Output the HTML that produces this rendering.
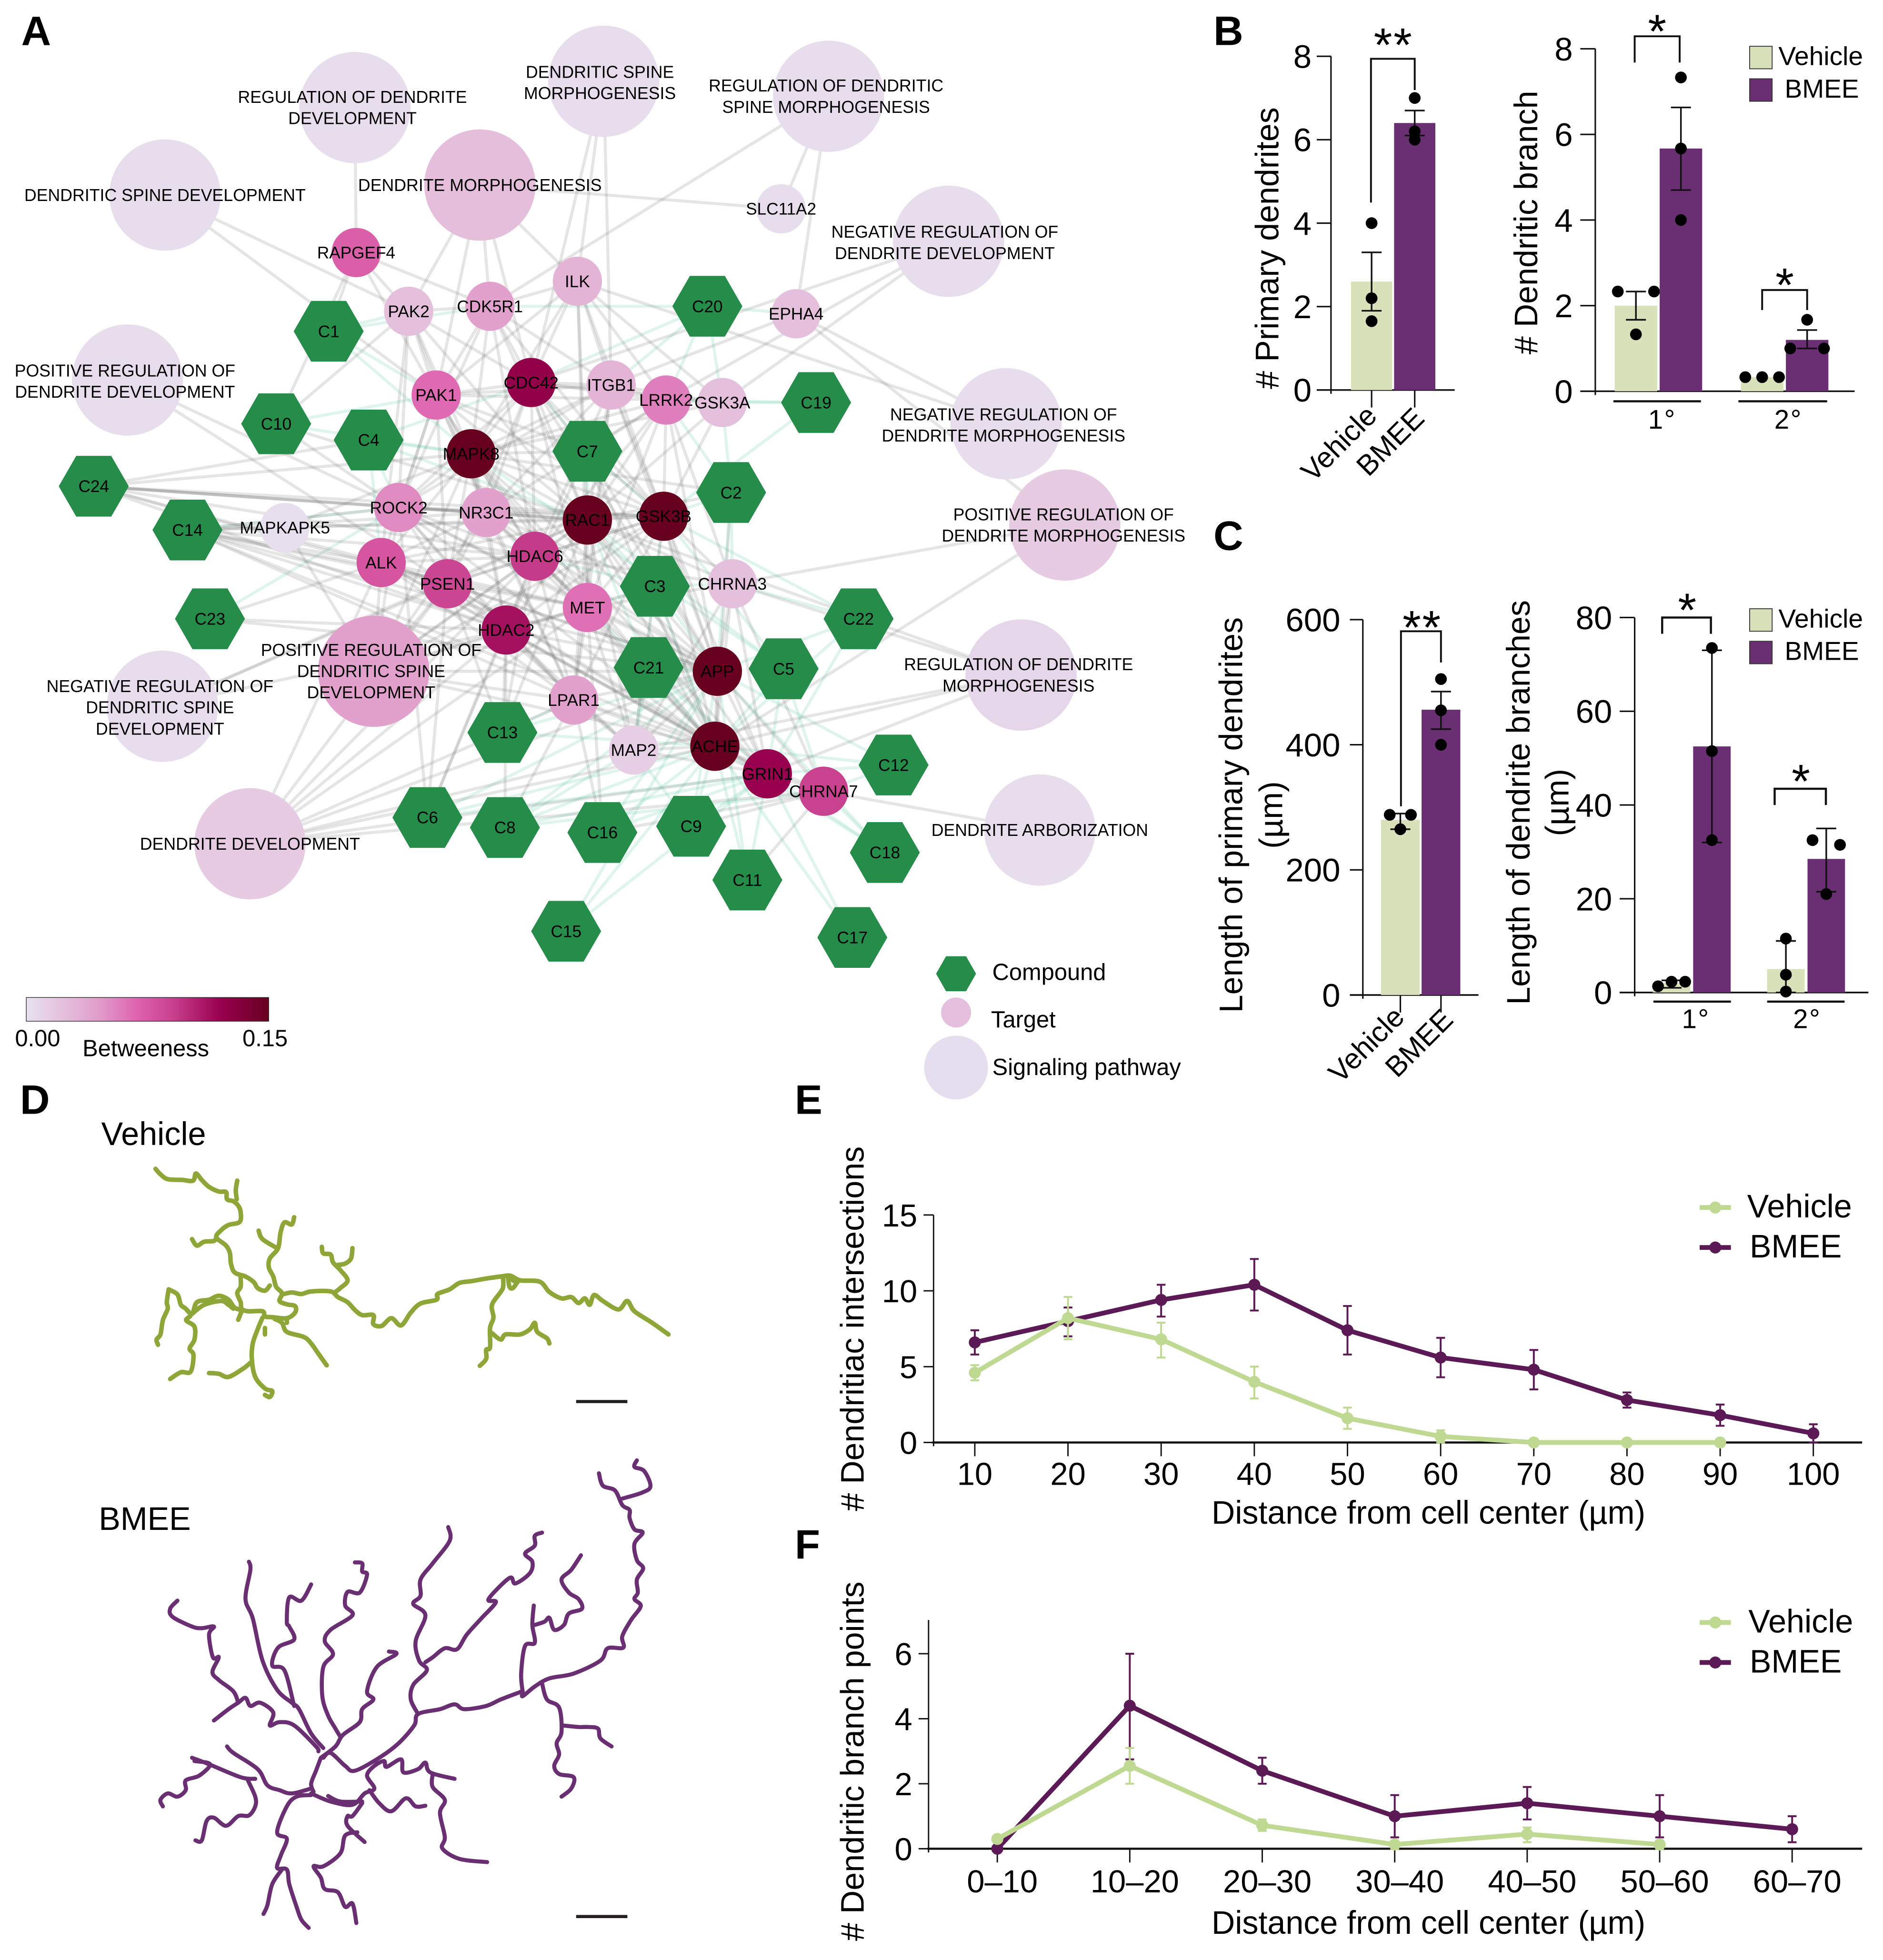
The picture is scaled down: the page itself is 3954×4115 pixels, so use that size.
<!DOCTYPE html>
<html lang="en">
<head>
<meta charset="utf-8">
<title>Network and dendrite morphology figure</title>
<style>
html,body{margin:0;padding:0;background:#fff;}
svg{display:block;font-family:"Liberation Sans",Arial,sans-serif;}
.neuron{fill:none;stroke-linejoin:round;stroke-linecap:round;vector-effect:non-scaling-stroke;}
</style>
</head>
<body>
<svg id="fig" xmlns="http://www.w3.org/2000/svg" width="3954" height="4115" viewBox="0 0 1506.7 1568">
<defs>
<linearGradient id="purd" x1="0" x2="1" y1="0" y2="0">
<stop offset="0" stop-color="#e7e1ef"/><stop offset=".15" stop-color="#e5c0dd"/><stop offset=".3" stop-color="#e19ccb"/><stop offset=".45" stop-color="#df65b0"/><stop offset=".6" stop-color="#c9428f"/><stop offset=".8" stop-color="#98004f"/><stop offset="1" stop-color="#67001f"/>
</linearGradient>
</defs>
<rect width="1506.7" height="1568" fill="#fff"/>

<g font-weight="bold" font-size="33">
<text x="17" y="36">A</text>
<text x="971" y="36">B</text>
<text x="971" y="440">C</text>
<text x="16" y="891">D</text>
<text x="636" y="891">E</text>
<text x="636" y="1247">F</text>
</g>

<g id="network"></g>

<g>
<rect x="21" y="798" width="194" height="19" fill="url(#purd)" stroke="#222" stroke-width=".5"/>
<text x="12" y="837" font-size="18.6">0.00</text>
<text x="66" y="845" font-size="18.6">Betweeness</text>
<text x="194" y="837" font-size="18.6">0.15</text>
</g>

<g>
<polygon points="749,779 757,765 773,765 781,779 773,793 757,793" fill="#258c49"/>
<text x="794" y="784" font-size="18.6">Compound</text>
<circle cx="765" cy="810" r="12" fill="#e4c0de"/>
<text x="793" y="822" font-size="18.6">Target</text>
<circle cx="765" cy="854" r="25.5" fill="#e4deee"/>
<text x="794" y="860" font-size="18.6">Signaling pathway</text>
</g>

<g id="panelB">
<text transform="translate(1023,198.5) rotate(-90)" text-anchor="middle" font-size="26">&#35; Primary dendrites</text>
<text transform="translate(1230,178) rotate(-90)" text-anchor="middle" font-size="26">&#35; Dendritic branch</text>
<text transform="translate(1103,334) rotate(-45)" text-anchor="end" font-size="23">Vehicle</text>
<text transform="translate(1141,336) rotate(-45)" text-anchor="end" font-size="23">BMEE</text>
<path d="M1097 162V47H1132V72" fill="none" stroke="#111" stroke-width="1.5"/>
<text x="1115" y="49" text-anchor="middle" font-size="38" letter-spacing="1">**</text>
<path d="M1308 50V29H1344V50" fill="none" stroke="#111" stroke-width="1.5"/>
<text x="1326" y="38" text-anchor="middle" font-size="38">*</text>
<path d="M1410 248V232H1446V248" fill="none" stroke="#111" stroke-width="1.5"/>
<text x="1428" y="241" text-anchor="middle" font-size="38">*</text>
<rect x="1400" y="37" width="18" height="18" fill="#d9e1bb" stroke="#333" stroke-width=".7"/>
<text x="1423" y="52" font-size="21">Vehicle</text>
<rect x="1400" y="63" width="18" height="18" fill="#6a2f72" stroke="#333" stroke-width=".7"/>
<text x="1428" y="78" font-size="21">BMEE</text>
<path d="M1291 321H1361M1391 321H1462" stroke="#111" stroke-width="1.7"/>
<text x="1330" y="343" text-anchor="middle" font-size="21.5" letter-spacing="1">1°</text>
<text x="1431" y="343" text-anchor="middle" font-size="21.5" letter-spacing="1">2°</text>
</g>

<g id="panelC">
<text transform="translate(994,652) rotate(-90)" text-anchor="middle" font-size="26">Length of primary dendrites</text>
<text transform="translate(1026,652) rotate(-90)" text-anchor="middle" font-size="26">(µm)</text>
<text transform="translate(1224,642) rotate(-90)" text-anchor="middle" font-size="26">Length of dendrite branches</text>
<text transform="translate(1255,642) rotate(-90)" text-anchor="middle" font-size="26">(µm)</text>
<text transform="translate(1125,815) rotate(-45)" text-anchor="end" font-size="23">Vehicle</text>
<text transform="translate(1164,817) rotate(-45)" text-anchor="end" font-size="23">BMEE</text>
<path d="M1121 645V505H1153V530" fill="none" stroke="#111" stroke-width="1.5"/>
<text x="1138" y="515" text-anchor="middle" font-size="38" letter-spacing="1">**</text>
<path d="M1330 507V494H1369V507" fill="none" stroke="#111" stroke-width="1.7"/>
<text x="1350" y="501" text-anchor="middle" font-size="38">*</text>
<path d="M1420 644V631H1461V644" fill="none" stroke="#111" stroke-width="1.7"/>
<text x="1441" y="638" text-anchor="middle" font-size="38">*</text>
<rect x="1400" y="487" width="18" height="18" fill="#d9e1bb" stroke="#333" stroke-width=".7"/>
<text x="1423" y="502" font-size="21">Vehicle</text>
<rect x="1400" y="513" width="18" height="18" fill="#6a2f72" stroke="#333" stroke-width=".7"/>
<text x="1428" y="528" font-size="21">BMEE</text>
<path d="M1323 801.3H1385M1414 801.3H1476" stroke="#111" stroke-width="1.7"/>
<text x="1357" y="822.5" text-anchor="middle" font-size="21.5" letter-spacing="1">1°</text>
<text x="1446" y="822.5" text-anchor="middle" font-size="21.5" letter-spacing="1">2°</text>
</g>

<g>
<text x="81" y="916" font-size="26">Vehicle</text>
<text x="79" y="1224" font-size="26">BMEE</text>
<g transform="translate(0,877) scale(.389,.206)">
<path class="neuron" stroke="#8ea538" stroke-width="9.5" d="M320 282L330 303 345 322 375 325 397 328 403 300 415 325 430 352 450 370 465 372 467 400 480 408 490 425 495 450 493 488 470 500 455 520 445 548 465 580 473 610 475 650 483 685 505 700 522 722 530 745 545 755 555 735 M445 548L440 562 420 565 405 580 395 555 M488 328L485 365 487 400 M605 470L600 498 585 490 577 530 572 590 555 630 553 665 562 700 568 740 580 765 575 795 590 808 607 815 607 840 590 862 560 858 545 855 540 835 510 835 497 825 495 800 488 765 495 740 495 705 M532 522L540 555 570 590 M580 770L600 762 620 768 640 758 680 758 695 780 715 800 730 830 745 850 768 850 768 885 785 892 805 862 825 890 845 840 865 805 898 790 900 768 925 750 945 725 970 718 1000 708 1030 700 1050 697 1070 715 1110 720 1130 760 1155 785 1175 780 1190 803 1203 785 1213 810 1222 772 1240 795 1272 828 1290 795 1305 835 1340 878 1375 925 M690 760L700 745 715 715 700 675 685 645 680 615 665 610 662 585 M725 590L722 630 710 650 695 655 M1035 705L1035 740 1030 760 1012 810 1015 860 1008 900 1008 975 1000 985 1000 1020 987 1047 M1012 920L1030 945 1040 925 1070 925 1090 905 1100 880 1105 915 1125 940 1130 960 M1045 705L1048 740 1055 745 1065 720 M1045 705L1060 720 M490 868L497 835 M347 750L343 800 345 825 335 870 330 925 322 945 325 965 M347 750L365 770 372 810 382 825 392 850 383 870 400 895 400 945 390 980 398 1005 392 1070 372 1072 350 1098 M382 825L395 845 405 800 430 790 450 775 470 790 482 820 495 830 M395 845L420 810 455 795 470 810 480 825 M540 860L530 905 520 960 518 1020 525 1090 545 1135 560 1145 555 1168 545 1160 M515 1035L500 1058 470 1090 450 1078 430 1075 M565 865L580 880 590 915 625 935 640 960 655 1000 672 1045 M590 862L590 880 M545 900L545 925"/>
</g>
<rect x="461" y="1120" width="41" height="2.5" fill="#231f20"/>
<g transform="translate(0,1160) scale(.389,.2592)">
<path class="neuron" stroke="#6a2f72" stroke-width="8.5" d="M1310 32L1305 52 1325 65 1338 112 1320 132 1280 150 M1232 72L1240 110 1265 125 1280 170 1295 185 1295 210 1305 245 1322 255 1305 290 1310 340 1323 365 1310 400 1312 440 1305 460 1318 482 1298 525 1280 575 1282 610 1250 612 1235 650 1180 690 1130 705 1100 730 1075 760 1075 745 1065 750 1030 770 1000 790 955 800 935 785 905 800 860 815 852 850 820 905 780 950 730 990 710 975 680 935 665 950 M1075 745L1072 690 1080 605 1100 595 1095 540 1098 480 M1100 540L1120 530 1130 518 1140 555 1160 540 1170 505 1197 490 1190 460 1170 440 1155 400 1175 370 1195 325 M1115 720L1125 770 1150 795 1155 870 1145 905 1150 940 1140 975 1150 1000 1180 1010 1175 1045 1155 1070 M1155 850L1190 855 1210 855 1230 860 1235 890 1258 915 M860 815L845 770 850 725 878 680 862 650 855 590 875 510 850 475 865 450 865 400 890 350 925 280 922 238 M875 655L890 640 915 612 940 615 960 570 990 520 1020 470 1005 460 1048 395 1060 412 1090 380 1095 345 1080 320 1100 295 1100 265 1115 255 M660 950L650 990 640 1030 645 1055 M665 920L640 875 615 800 600 780 570 740 540 650 520 520 505 460 515 370 512 345 M605 790L585 680 560 665 572 610 605 585 595 545 590 530 595 455 620 465 640 415 M700 885L690 860 675 820 663 760 665 670 685 630 668 590 680 555 725 510 710 480 715 438 740 440 755 385 745 375 745 350 730 347 M660 950L690 915 705 880 740 840 745 800 768 770 755 745 775 670 815 630 800 622 M655 930L650 915 605 850 575 840 555 850 562 810 535 780 515 790 505 765 490 780 470 800 440 835 M490 780L480 745 450 710 437 685 450 640 438 640 430 570 440 545 415 550 395 545 355 515 350 490 365 465 M640 1045L600 1060 575 1050 550 1035 530 985 480 935 467 915 M525 1015L495 1010 430 970 395 950 M400 960L432 970 410 1005 382 1020 382 1050 365 1070 345 1060 330 1080 335 1100 M510 1020L525 1070 525 1100 512 1128 490 1130 465 1160 440 1135 425 1145 415 1205 402 1205 M640 1060L680 1085 725 1095 750 1060 770 1045 755 1005 770 975 790 960 795 978 825 955 830 995 860 985 875 965 885 995 935 1015 M890 1000L890 1040 915 1080 905 1120 915 1195 910 1230 945 1262 1002 1272 M760 1050L780 1090 805 1115 835 1075 855 1100 875 1098 M675 1068L700 1085 745 1085 M640 1065L610 1070 590 1100 570 1180 590 1200 578 1250 570 1290 590 1295 595 1340 610 1410 620 1450 635 1475 M580 1295L560 1340 550 1405 542 1432 M745 1090L725 1130 715 1130 715 1160 750 1210 M735 1180L710 1190 700 1245 665 1285 645 1285 660 1320 668 1355 695 1365 710 1410 725 1400 733 1460"/>
</g>
<rect x="461" y="1532" width="41" height="2.5" fill="#231f20"/>
</g>

<g id="panelE">
<text transform="translate(691,1063) rotate(-90)" text-anchor="middle" font-size="26">&#35; Dendritiac intersections</text>
<text x="1143" y="1219" text-anchor="middle" font-size="26">Distance from cell center (µm)</text>
<text x="1398" y="974" font-size="26">Vehicle</text>
<text x="1400" y="1006" font-size="26">BMEE</text>
</g>

<g id="panelF">
<text transform="translate(691,1409) rotate(-90)" text-anchor="middle" font-size="26">&#35; Dendritic branch points</text>
<text x="1143" y="1547" text-anchor="middle" font-size="26">Distance from cell center (µm)</text>
<text x="1399" y="1306" font-size="26">Vehicle</text>
<text x="1400" y="1338" font-size="26">BMEE</text>
</g>
</svg>

<script>
/* ---------- Panel B data ---------- */
const b1Means = [2.6, 6.4];
const b1Low = [1.9, 6.1];
const b1High = [3.3, 6.7];
const b1DotsVehicle = [4, 2.2, 1.65];
const b1DotsBmee = [7, 6.2, 6];
const b1Ticks = [0, 2, 4, 6, 8];

const b2Means = [2, 5.67, 0.33, 1.2];
const b2Low = [1.67, 4.7, 0.33, 1];
const b2High = [2.33, 6.63, 0.33, 1.43];
const b2Dots = [[2.33, 2.33, 1.33], [7.33, 5.67, 4], [0.33, 0.33, 0.33], [1, 1.67, 1]];
const b2Ticks = [0, 2, 4, 6, 8];

/* ---------- Panel C data ---------- */
const c1Means = [280, 456];
const c1Low = [265, 425];
const c1High = [290, 485];
const c1DotsVehicle = [288, 288, 265];
const c1DotsBmee = [505, 455, 400];
const c1Ticks = [0, 200, 400, 600];

const c2Means = [2, 52.5, 5, 28.5];
const c2Low = [1, 32, 0, 21.5];
const c2High = [2.6, 73, 11, 35];
const c2Dots = [[1.33, 2.3, 2.3], [73.5, 51.5, 32.5], [11.5, 3.8, 0.2], [32.5, 31.5, 21]];
const c2Ticks = [0, 20, 40, 60, 80];

/* ---------- Panel E data ---------- */
const eCategories = ['10','20','30','40','50','60','70','80','90','100'];
const eTicks = [0, 5, 10, 15];
const eBmee = [6.6, 8.0, 9.4, 10.4, 7.4, 5.6, 4.8, 2.8, 1.8, 0.6];
const eBmeeLow = [5.8, 7.0, 8.3, 8.7, 5.8, 4.3, 3.5, 2.3, 1.1, 0];
const eBmeeHigh = [7.4, 8.9, 10.4, 12.1, 9.0, 6.9, 6.1, 3.3, 2.5, 1.2];
const eVehicle = [4.6, 8.2, 6.8, 4.0, 1.6, 0.4, 0, 0, 0];
const eVehicleLow = [4.1, 6.8, 5.6, 2.9, 0.9, 0, 0, 0, 0];
const eVehicleHigh = [5.1, 9.6, 7.9, 5.0, 2.3, 0.8, 0, 0, 0];

/* ---------- Panel F data ---------- */
const fCategories = ['0–10','10–20','20–30','30–40','40–50','50–60','60–70'];
const fTicks = [0, 2, 4, 6];
const fBmee = [0, 4.4, 2.4, 1.0, 1.4, 1.0, 0.6];
const fBmeeLow = [0, 2.75, 2.0, 0.35, 0.9, 0.35, 0.2];
const fBmeeHigh = [0, 6.0, 2.8, 1.65, 1.9, 1.65, 1.0];
const fVehicle = [0.3, 2.55, 0.72, 0.13, 0.45, 0.13];
const fVehicleLow = [0.3, 2.0, 0.55, 0, 0.2, 0];
const fVehicleHigh = [0.3, 3.1, 0.9, 0.25, 0.65, 0.25];

/* ---------- Network data ---------- */
const targetNames = ['RAPGEF4','PAK2','CDK5R1','ILK','PAK1','CDC42','ITGB1','LRRK2','GSK3A','EPHA4','MAPK8','ROCK2','NR3C1','RAC1','GSK3B','HDAC6','ALK','PSEN1','MET','HDAC2','CHRNA3','APP','LPAR1','MAP2','ACHE','GRIN1','CHRNA7','MAPKAPK5','SLC11A2'];
const targetBetweenness = [.48,.15,.28,.2,.44,.82,.2,.38,.15,.15,1,.35,.28,1,1,.62,.52,.58,.42,.75,.15,1,.28,.08,1,.8,.6,.01,.02];
const compoundNames = ['C1','C10','C4','C24','C14','C23','C7','C2','C19','C20','C3','C22','C21','C5','C13','C12','C6','C8','C16','C9','C18','C11','C15','C17'];
const pathwayIds = ['RDD','DSM','RDSM','DM','DSD','NRDD','PRDD','NRDM','PRDM','PRSD','NRSD','RDM','DD','DA'];
const pathwayBetweenness = [.02,.02,.02,.16,.02,.02,.02,.02,.1,.28,.02,.05,.1,.02];
const pathwayLabels = {
 RDD:['REGULATION OF DENDRITE','DEVELOPMENT'], DSM:['DENDRITIC SPINE','MORPHOGENESIS'],
 RDSM:['REGULATION OF DENDRITIC','SPINE MORPHOGENESIS'], DM:['DENDRITE MORPHOGENESIS'],
 DSD:['DENDRITIC SPINE DEVELOPMENT'], NRDD:['NEGATIVE REGULATION OF','DENDRITE DEVELOPMENT'],
 PRDD:['POSITIVE REGULATION OF','DENDRITE DEVELOPMENT'], NRDM:['NEGATIVE REGULATION OF','DENDRITE MORPHOGENESIS'],
 PRDM:['POSITIVE REGULATION OF','DENDRITE MORPHOGENESIS'], PRSD:['POSITIVE REGULATION OF','DENDRITIC SPINE','DEVELOPMENT'],
 NRSD:['NEGATIVE REGULATION OF','DENDRITIC SPINE','DEVELOPMENT'], RDM:['REGULATION OF DENDRITE','MORPHOGENESIS'],
 DD:['DENDRITE DEVELOPMENT'], DA:['DENDRITE ARBORIZATION']
};
const greyLinks = {
 RDD:'RAPGEF4', DSM:'ILK CDC42 ITGB1', RDSM:'SLC11A2 EPHA4 CDK5R1', DM:'SLC11A2 PAK1 CDK5R1 ILK CDC42 PAK2',
 DSD:'PAK2 PAK1', NRDD:'GSK3A LRRK2 CDC42', PRDD:'ROCK2 PSEN1', NRDM:'ILK EPHA4', PRDM:'EPHA4 CHRNA3 ACHE',
 PRSD:'MAPKAPK5 ROCK2 MAPK8 ALK PSEN1 NR3C1 HDAC2 RAC1 GSK3B LPAR1 MET HDAC6 ACHE APP', NRSD:'RAC1 PSEN1 HDAC2',
 RDM:'ACHE GRIN1 MAP2 CHRNA3 RAC1', DD:'HDAC2 LPAR1 MAP2 ACHE GRIN1 PSEN1 MET ALK HDAC6 APP CHRNA7', DA:'CHRNA7',
 MAPK8:'PAK1 CDC42 ROCK2 NR3C1 RAC1 GSK3B HDAC6 PSEN1 MET HDAC2 APP ACHE LRRK2 ITGB1 GSK3A ILK PAK2 CDK5R1 ALK MAPKAPK5 GRIN1',
 RAC1:'PAK1 CDC42 ITGB1 LRRK2 GSK3A ROCK2 NR3C1 GSK3B HDAC6 HDAC2 PSEN1 MET APP ACHE LPAR1 PAK2 CDK5R1 ILK CHRNA3 ALK GRIN1 MAP2',
 GSK3B:'CDC42 ITGB1 LRRK2 GSK3A NR3C1 HDAC6 HDAC2 PSEN1 MET APP ACHE PAK1 ILK CDK5R1 LPAR1 MAP2 GRIN1 ROCK2 CHRNA3',
 CDC42:'PAK1 PAK2 ITGB1 LRRK2 GSK3A CDK5R1 ILK ROCK2 NR3C1 HDAC6 PSEN1 MET APP',
 APP:'HDAC6 HDAC2 PSEN1 MET LPAR1 ACHE GRIN1 MAP2 CHRNA3 CHRNA7 LRRK2 NR3C1 ITGB1 ALK ROCK2',
 ACHE:'HDAC6 HDAC2 PSEN1 MET LPAR1 GRIN1 MAP2 CHRNA3 CHRNA7 NR3C1 ROCK2 ALK',
 HDAC6:'NR3C1 HDAC2 PSEN1 ALK MET PAK1 ITGB1 LRRK2 ROCK2 CDK5R1 GRIN1 LPAR1 CHRNA3', HDAC2:'NR3C1 PSEN1 ALK MET LPAR1 ROCK2 GRIN1',
 PSEN1:'ALK ROCK2 MET NR3C1 GRIN1 PAK1', ITGB1:'ILK PAK1 LRRK2 GSK3A CDK5R1 EPHA4 ROCK2 MET LPAR1',
 LRRK2:'GSK3A ILK PAK1 MET CHRNA3', ILK:'PAK1 GSK3A CDK5R1 MET', PAK1:'PAK2 RAPGEF4 CDK5R1 ROCK2 NR3C1 ALK',
 PAK2:'RAPGEF4 ROCK2 CDK5R1 ALK', CDK5R1:'RAPGEF4 ROCK2', CHRNA3:'GRIN1 CHRNA7 MAP2', GRIN1:'CHRNA7 MAP2 LPAR1',
 MET:'NR3C1 ROCK2 ALK LPAR1 MAP2 CHRNA3', NR3C1:'ROCK2 LRRK2 ITGB1 LPAR1 ALK PAK2', LPAR1:'ROCK2 PAK1 MAP2 ALK', MAP2:'HDAC2 PSEN1',
 C24:'RAC1 ROCK2 NR3C1 MAPK8 C4 GSK3B PSEN1 HDAC2 ALK HDAC6', C14:'RAC1 GSK3B HDAC6 ROCK2 APP ACHE HDAC2 PSEN1 MET NR3C1 ALK LPAR1',
 C23:'ALK HDAC2 APP', C10:'RAPGEF4 PAK2 ROCK2 RAC1', C1:'RAPGEF4', C7:'MAPK8 PAK1 CDC42 LRRK2 GSK3B ACHE APP HDAC2',
 C6:'HDAC2 HDAC6 PSEN1 ROCK2', C13:'HDAC2 HDAC6 PSEN1 RAC1', C8:'HDAC2 LPAR1', C16:'LPAR1 MET CHRNA7', C9:'CHRNA7', C11:'CHRNA7', C2:'RAC1 MAPK8 ACHE', C3:'NR3C1 HDAC2 ACHE'
};
const tealLinks = {
 C1:'PAK2 PAK1 CDK5R1 MAPK8', C10:'PAK1 MAPK8', C4:'MAPK8 ROCK2 ALK RAC1 CDC42', C7:'RAC1 GSK3B CDC42',
 C2:'GSK3B LRRK2 GSK3A APP CHRNA3', C19:'GSK3A LRRK2 GSK3B', C20:'EPHA4 CDK5R1 ITGB1 LRRK2 CDC42 GSK3A',
 C3:'APP ACHE RAC1 MET CHRNA3 GSK3B HDAC6 MAP2', C22:'APP ACHE CHRNA3 GRIN1 GSK3B', C21:'ACHE APP MAP2 MET GRIN1 RAC1',
 C5:'ACHE GRIN1 CHRNA7 GSK3B RAC1 MAPK8', C13:'ACHE APP LPAR1', C12:'ACHE APP CHRNA7 GRIN1', C6:'ACHE APP GRIN1',
 C8:'ACHE APP GRIN1 MAP2 CHRNA7', C16:'ACHE APP GRIN1', C9:'ACHE APP GRIN1 MAP2', C18:'CHRNA7 ACHE GRIN1 APP',
 C11:'ACHE APP GRIN1', C15:'ACHE APP GRIN1', C17:'ACHE GRIN1', C23:'ROCK2', C14:'ROCK2'
};
/* node layout (graph placement, not data) */
const layout = {
 RAPGEF4:[285,202],PAK2:[327,249],CDK5R1:[392,245],ILK:[462,225],PAK1:[349,316],CDC42:[425,306],ITGB1:[489,308],LRRK2:[533,320],GSK3A:[578,322],EPHA4:[637,251],MAPK8:[377,363],ROCK2:[319,406],NR3C1:[389,410],RAC1:[470,416],GSK3B:[531,413],HDAC6:[428,445],ALK:[305,450],PSEN1:[358,467],MET:[470,486],HDAC2:[405,504],CHRNA3:[586,467],APP:[574,537],LPAR1:[459,560],MAP2:[507,600],ACHE:[572,597],GRIN1:[614,619],CHRNA7:[659,633],MAPKAPK5:[228,422],SLC11A2:[625,167],
 C1:[263,265],C10:[221,339],C4:[295,352],C24:[75,389],C14:[150,424],C23:[168,495],C7:[470,361],C2:[585,394],C19:[653,322],C20:[566,245],C3:[524,469],C22:[687,495],C21:[519,534],C5:[627,535],C13:[402,586],C12:[715,612],C6:[342,654],C8:[404,662],C16:[482,666],C9:[553,661],C18:[708,682],C11:[598,704],C15:[453,745],C17:[682,750],
 RDD:[284,86],DSM:[483,65],RDSM:[663,77],DM:[384,148],DSD:[132,156],NRDD:[759,193],PRDD:[102,304],NRDM:[805,339],PRDM:[852,420],PRSD:[299,537],NRSD:[130,565],RDM:[817,540],DD:[200,675],DA:[832,664]
};
const labelCentres = {RDD:[282,86],DSM:[480,66],RDSM:[661,77],DM:[384,148],DSD:[132,156],NRDD:[756,194],PRDD:[100,305],NRDM:[803,340],PRDM:[851,420],PRSD:[297,537],NRSD:[128,566],RDM:[815,540],DD:[200,675],DA:[832,664]};

const NS = 'http://www.w3.org/2000/svg';
function mk(tag, attrs, parent) {
  const e = document.createElementNS(NS, tag);
  for (const k in attrs) e.setAttribute(k, attrs[k]);
  parent.appendChild(e);
  return e;
}

/* smooth the traced neuron outlines */
document.querySelectorAll('.neuron').forEach(function (p) {
  const out = p.getAttribute('d').split('M').filter(function (s) { return s.trim(); }).map(function (s) {
    const n = s.match(/-?\d+(\.\d+)?/g).map(Number), q = [];
    for (let i = 0; i < n.length; i += 2) q.push([n[i], n[i + 1]]);
    let d = 'M' + q[0][0] + ' ' + q[0][1];
    for (let i = 0; i < q.length - 1; i++) {
      const a = q[Math.max(i - 1, 0)], b = q[i], c = q[i + 1], e = q[Math.min(i + 2, q.length - 1)];
      d += 'C' + (b[0] + (c[0] - a[0]) / 6) + ' ' + (b[1] + (c[1] - a[1]) / 6) + ' ' + (c[0] - (e[0] - b[0]) / 6) + ' ' + (c[1] - (e[1] - b[1]) / 6) + ' ' + c[0] + ' ' + c[1];
    }
    return d;
  });
  p.setAttribute('d', out.join(''));
});

/* colour scale */
const rampPos = [0, .15, .3, .45, .6, .8, 1];
const rampCol = [[231,225,239],[229,192,221],[225,156,203],[223,101,176],[201,66,143],[152,0,79],[103,0,31]];
function colour(t) {
  let i = 0;
  while (i < rampPos.length - 2 && t > rampPos[i + 1]) i++;
  const f = (t - rampPos[i]) / (rampPos[i + 1] - rampPos[i]);
  const c = rampCol[i].map((v, k) => Math.round(v + (rampCol[i + 1][k] - v) * f));
  return 'rgb(' + c.join(',') + ')';
}

/* ---------- network ---------- */
(function () {
  const net = document.getElementById('network');
  const edgeGroup = mk('g', {}, net);
  
  
  function drawLinks(map, col) {
    for (const from in map) {
      map[from].split(' ').forEach(function (to) {
        const a = layout[from], b = layout[to];
        const l = mk('line', {x1: a[0], y1: a[1], x2: b[0], y2: b[1], stroke: col, 'stroke-width': 2.4}, edgeGroup);
        
        
      });
    }
  }
  drawLinks(tealLinks, 'rgba(120,210,180,.24)');
  drawLinks(greyLinks, 'rgba(115,115,115,.19)');

  pathwayIds.forEach(function (id, i) {
    const p = layout[id];
    const c = mk('circle', {cx: p[0], cy: p[1], r: 44.5, fill: colour(pathwayBetweenness[i])}, net);
    
    
  });
  targetNames.forEach(function (name, i) {
    const p = layout[name];
    const c = mk('circle', {cx: p[0], cy: p[1], r: 19.7, fill: colour(targetBetweenness[i])}, net);
    
    
  });
  compoundNames.forEach(function (name) {
    const p = layout[name], R = 28, h = 24.3;
    const pts = [[p[0]-R,p[1]],[p[0]-R/2,p[1]-h],[p[0]+R/2,p[1]-h],[p[0]+R,p[1]],[p[0]+R/2,p[1]+h],[p[0]-R/2,p[1]+h]].map(q => q.join(',')).join(' ');
    const c = mk('polygon', {points: pts, fill: '#258c49'}, net);
    
    
  });
  targetNames.concat(compoundNames).forEach(function (name) {
    const p = layout[name];
    const t = mk('text', {x: p[0], y: p[1] + 4.7, 'text-anchor': 'middle', 'font-size': 13.4, fill: '#000'}, net);
    t.textContent = name;
    
    
  });
  pathwayIds.forEach(function (id) {
    const lines = pathwayLabels[id], p = labelCentres[id];
    lines.forEach(function (s, i) {
      const y = p[1] + 4.7 + (i - (lines.length - 1) / 2) * 17;
      const t = mk('text', {x: p[0], y: y, 'text-anchor': 'middle', 'font-size': 13.6, fill: '#000'}, net);
      t.textContent = s;
      
      
    });
  });
})();

/* ---------- bar panels ---------- */
function drawAxes(parent, cfg) {
  const y = cfg.y;
  const ya = mk('line', {x1: cfg.axisX, x2: cfg.axisX, y1: y(cfg.ticks[cfg.ticks.length - 1]), y2: cfg.y0 + 3, stroke: '#111', 'stroke-width': 1.2}, parent);
  
  
  const xa = mk('line', {x1: cfg.axisX - cfg.tick, x2: cfg.xEnd, y1: cfg.y0, y2: cfg.y0, stroke: '#111', 'stroke-width': 1.3}, parent);
  
  
  cfg.ticks.forEach(function (v) {
    const tk = mk('line', {x1: cfg.axisX - cfg.tick, x2: cfg.axisX, y1: y(v), y2: y(v), stroke: '#111', 'stroke-width': 1.2}, parent);
    
    
    const lb = mk('text', {x: cfg.axisX - cfg.gap, y: y(v) + 9.3, 'text-anchor': 'end', 'font-size': 26.3}, parent);
    lb.textContent = String(v);
    
    
  });
}
function drawBar(parent, cfg, b) {
  const y = cfg.y;
  const r = mk('rect', {x: b.cx - b.w / 2, y: y(b.mean), width: b.w, height: cfg.y0 - y(b.mean), fill: b.fill}, parent);
  
  
  if (b.high > b.low) {
    const d = 'M' + b.cx + ' ' + y(b.low) + 'V' + y(b.high) + 'M' + (b.cx - 8) + ' ' + y(b.low) + 'H' + (b.cx + 8) + 'M' + (b.cx - 8) + ' ' + y(b.high) + 'H' + (b.cx + 8);
    const e = mk('path', {d: d, fill: 'none', stroke: '#111', 'stroke-width': 1.3}, parent);
    
    
  }
  b.dots.forEach(function (v, i) {
    const c = mk('circle', {cx: b.cx + b.jitter[i], cy: y(v), r: 4.7, fill: '#000'}, parent);
    
    
  });
}
function lin(y0, yMaxPx, max) { return function (v) { return y0 - v / max * (y0 - yMaxPx); }; }
function xTick(parent, x, y0, id) {
  const t = mk('line', {x1: x, x2: x, y1: y0, y2: y0 + 14, stroke: '#111', 'stroke-width': 1.2}, parent);
  
  
}
const VEH = '#d9e1bb', BME = '#6a2f72';
(function () {
  const B = document.getElementById('panelB'), C = document.getElementById('panelC');
  const none = [0, 0, 0];

  const c1 = {id: 'primary-dendrites', axisX: 1065, y0: 312, xEnd: 1164, tick: 11.4, gap: 15.5, ticks: b1Ticks, y: lin(312, 45, 8)};
  drawAxes(B, c1);
  xTick(B, 1097.5, 312, 'primary-vehicle');
  xTick(B, 1132, 312, 'primary-bmee');
  drawBar(B, c1, {name: 'vehicle', cx: 1097.5, w: 33, mean: b1Means[0], low: b1Low[0], high: b1High[0], fill: VEH, dots: b1DotsVehicle, jitter: none});
  drawBar(B, c1, {name: 'bmee', cx: 1132, w: 33, mean: b1Means[1], low: b1Low[1], high: b1High[1], fill: BME, dots: b1DotsBmee, jitter: none});

  const c2 = {id: 'dendritic-branch', axisX: 1276.5, y0: 313, xEnd: 1484, tick: 12, gap: 18, ticks: b2Ticks, y: lin(313, 39, 8)};
  drawAxes(B, c2);
  const b2Names = ['vehicle-1','bmee-1','vehicle-2','bmee-2'];
  const b2Cx = function (i) { return (i < 2 ? 1309 : 1410) + (i % 2) * 36; };
  const b2Jit = [[-14.5, 14.5, 0], none, [-13.5, 0, 13.5], [-13.5, 0, 13.5]];
  b2Means.forEach(function (m, i) {
    drawBar(B, c2, {name: b2Names[i], cx: b2Cx(i), w: 34, mean: m, low: b2Low[i], high: b2High[i], fill: i % 2 ? BME : VEH, dots: b2Dots[i], jitter: b2Jit[i]});
  });

  const c3 = {id: 'length-primary', axisX: 1090.5, y0: 796, xEnd: 1183, tick: 10.4, gap: 18, ticks: c1Ticks, y: lin(796, 495.7, 600)};
  drawAxes(C, c3);
  xTick(C, 1120.5, 796, 'length-vehicle');
  xTick(C, 1153, 796, 'length-bmee');
  drawBar(C, c3, {name: 'vehicle', cx: 1120.5, w: 31, mean: c1Means[0], low: c1Low[0], high: c1High[0], fill: VEH, dots: c1DotsVehicle, jitter: [-8.5, 8.5, 0]});
  drawBar(C, c3, {name: 'bmee', cx: 1153, w: 31, mean: c1Means[1], low: c1Low[1], high: c1High[1], fill: BME, dots: c1DotsBmee, jitter: none});

  const c4 = {id: 'length-branches', axisX: 1308, y0: 794, xEnd: 1495, tick: 12, gap: 18, ticks: c2Ticks, y: lin(794, 494, 80)};
  drawAxes(C, c4);
  const c2Cx = function (i) { return (i < 2 ? 1337.5 : 1429) + (i % 2) * 32.3; };
  const c2Jit = [[-10.8, 0, 10.9], none, none, [-11, 11, 0]];
  c2Means.forEach(function (m, i) {
    drawBar(C, c4, {name: b2Names[i], cx: c2Cx(i), w: 30, mean: m, low: c2Low[i], high: c2High[i], fill: i % 2 ? BME : VEH, dots: c2Dots[i], jitter: c2Jit[i]});
  });
})();

/* ---------- line panels ---------- */
const LV = '#bfd993', LB = '#5b1a55';
function drawLinePanel(cfg) {
  const g = document.getElementById(cfg.host);
  const ya = mk('line', {x1: cfg.axisX, x2: cfg.axisX, y1: cfg.top, y2: cfg.y0 + 3, stroke: '#111', 'stroke-width': 1.1}, g);
  
  
  const xa = mk('line', {x1: cfg.axisX - 1, x2: 1490, y1: cfg.y0, y2: cfg.y0, stroke: '#111', 'stroke-width': 1.7}, g);
  
  
  cfg.yTicks.forEach(function (v) {
    const t = mk('line', {x1: cfg.axisX - 8, x2: cfg.axisX, y1: cfg.y(v), y2: cfg.y(v), stroke: '#111', 'stroke-width': 1.1}, g);
    
    
    const l = mk('text', {x: cfg.axisX - 13, y: cfg.y(v) + 9.2, 'text-anchor': 'end', 'font-size': 25.5}, g);
    l.textContent = String(v);
    
    
  });
  cfg.cats.forEach(function (c, i) {
    const t = mk('line', {x1: cfg.x(i), x2: cfg.x(i), y1: cfg.y0, y2: cfg.y0 + 11, stroke: '#111', 'stroke-width': 1.1}, g);
    
    
    const l = mk('text', {x: cfg.x(i) + cfg.labelShift, y: cfg.labelY, 'text-anchor': 'middle', 'font-size': 25.5}, g);
    l.textContent = c;
    
    
  });
  cfg.series.forEach(function (s) {
    s.low.forEach(function (lo, i) {
      if (s.high[i] <= lo) return;
      const x = cfg.x(i);
      const d = 'M' + x + ' ' + cfg.y(lo) + 'V' + cfg.y(s.high[i]) + 'M' + (x - 3.5) + ' ' + cfg.y(lo) + 'H' + (x + 3.5) + 'M' + (x - 3.5) + ' ' + cfg.y(s.high[i]) + 'H' + (x + 3.5);
      const e = mk('path', {d: d, fill: 'none', stroke: s.col, 'stroke-width': 1.5}, g);
      
      
    });
    const pts = s.vals.map(function (v, i) { return cfg.x(i) + ',' + cfg.y(v); }).join(' ');
    const pl = mk('polyline', {points: pts, fill: 'none', stroke: s.col, 'stroke-width': 3.8, 'stroke-linejoin': 'round'}, g);
    
    
    s.vals.forEach(function (v, i) {
      const c = mk('circle', {cx: cfg.x(i), cy: cfg.y(v), r: 4.8, fill: s.col}, g);
      
      
    });
  });
  [[cfg.legY[0], LV, 'vehicle'], [cfg.legY[1], LB, 'bmee']].forEach(function (q) {
    const l = mk('line', {x1: 1360, x2: 1385, y1: q[0], y2: q[0], stroke: q[1], 'stroke-width': 3.8}, g);
    
    
    const c = mk('circle', {cx: 1372.5, cy: q[0], r: 4.8, fill: q[1]}, g);
    
    
  });
}
drawLinePanel({
  host: 'panelE', id: 'intersections', axisX: 747, y0: 1154, top: 972, yTicks: eTicks, cats: eCategories,
  x: function (i) { return 780 + i * 74.55; }, y: lin(1154, 972, 15), labelShift: 0, labelY: 1188, legY: [966, 998],
  series: [
    {name: 'bmee', col: LB, vals: eBmee, low: eBmeeLow, high: eBmeeHigh},
    {name: 'vehicle', col: LV, vals: eVehicle, low: eVehicleLow, high: eVehicleHigh}
  ]
});
drawLinePanel({
  host: 'panelF', id: 'branch-points', axisX: 743, y0: 1479, top: 1296, yTicks: fTicks, cats: fCategories,
  x: function (i) { return 798 + i * 106; }, y: lin(1479, 1323, 6), labelShift: 4, labelY: 1514, legY: [1298, 1330],
  series: [
    {name: 'bmee', col: LB, vals: fBmee, low: fBmeeLow, high: fBmeeHigh},
    {name: 'vehicle', col: LV, vals: fVehicle, low: fVehicleLow, high: fVehicleHigh}
  ]
});
</script>
</body>
</html>
